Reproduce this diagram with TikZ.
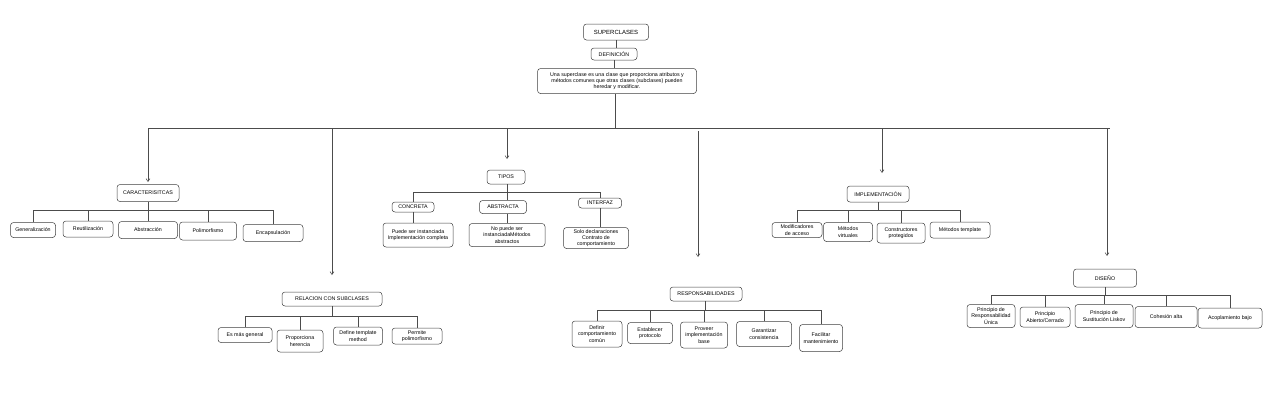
\documentclass[tikz,border=0pt]{standalone}
\usepackage{fontspec}
\setmainfont{Liberation Sans}
\usetikzlibrary{arrows.meta}

\tikzset{
    box/.style={draw=black!75, line width=0.5pt, rounded corners=3pt, align=center,
        inner sep=1pt, font=\fontsize{5.3}{6.3}\selectfont},
    link/.style={draw=black!70, line width=0.5pt},
    arr/.style={link, -{Straight Barb[length=3pt,width=4pt]}}
}

\begin{document}
\begin{tikzpicture}[x=1pt,y=-1pt]
    \useasboundingbox[fill=white] (0,0) rectangle (1278,413);

    % root
    \node[box, minimum width=65, minimum height=16, font=\fontsize{6}{7}\selectfont] (top) at (616,32) {SUPERCLASES};
    \node[box, minimum width=46, minimum height=12] (defn) at (614,54) {DEFINICIÓN};
    \node[box, minimum width=159, minimum height=25] (deftxt) at (617,81)
        {Una superclase es una clase que proporciona atributos y\\métodos comunes que otras clases (subclases) pueden\\heredar y modificar.};
    \draw[link] (top.south) -- (top.south |- defn.north);
    \draw[link] (defn.south) -- (defn.south |- deftxt.north);

    % main bar
    \coordinate (barL) at (148,128);
    \coordinate (barR) at (1110,128);
    \coordinate (trunk) at (615,128);
    \draw[link] (barL) -- (barR);
    \draw[link] (deftxt.south -| trunk) -- (trunk);

    \coordinate (carTip) at (148,182);
    \coordinate (relTip) at (332,275);
    \coordinate (tipTip) at (507,159);
    \coordinate (resTop) at (698,131);
    \coordinate (resTip) at (698,257);
    \coordinate (impTip) at (882,173);
    \coordinate (disTip) at (1107,256);
    \draw[arr] (carTip |- barL) -- (carTip);
    \draw[arr] (relTip |- barL) -- (relTip);
    \draw[arr] (tipTip |- barL) -- (tipTip);
    \draw[arr] (resTop) -- (resTip);
    \draw[arr] (impTip |- barL) -- (impTip);
    \draw[arr] (disTip |- barL) -- (disTip);

    % caracteristicas
    \node[box, minimum width=62, minimum height=17] (car) at (148,193) {CARACTERISITCAS};
    \node[box, minimum width=45, minimum height=15] (car1) at (33,230) {Generalización};
    \node[box, minimum width=50, minimum height=16] (car2) at (88,229) {Reutilización};
    \node[box, minimum width=59, minimum height=17] (car3) at (148,230) {Abstracción};
    \node[box, minimum width=57, minimum height=18] (car4) at (208,231) {Polimorfismo};
    \node[box, minimum width=60, minimum height=17] (car5) at (273,233) {Encapsulación};
    \coordinate (carbar) at (148,210);
    \draw[link] (car.south) -- (carbar);
    \foreach \n in {car1,car2,car3,car4,car5}
        \draw[link] (\n.north) |- (carbar);

    % relacion con subclases
    \node[box, minimum width=100, minimum height=14] (rel) at (332,299) {RELACION CON SUBCLASES};
    \node[box, minimum width=54, minimum height=15] (rel1) at (245,335) {Es más general};
    \node[box, minimum width=46, minimum height=22] (rel2) at (300,341) {Proporciona\\herencia};
    \node[box, minimum width=49, minimum height=18] (rel3) at (358,336) {Define template\\method};
    \node[box, minimum width=50, minimum height=16] (rel4) at (417,336) {Permite\\polimorfismo};
    \coordinate (relbar) at (332,316);
    \draw[link] (rel.south) -- (relbar);
    \foreach \n in {rel1,rel2,rel3,rel4}
        \draw[link] (\n.north) |- (relbar);

    % tipos
    \node[box, minimum width=38, minimum height=14] (tip) at (506,177) {TIPOS};
    \node[box, minimum width=42, minimum height=10] (tip1) at (413,207) {CONCRETA};
    \node[box, minimum width=47, minimum height=13] (tip2) at (503,207) {ABSTRACTA};
    \node[box, minimum width=43, minimum height=10] (tip3) at (600,203) {INTERFAZ};
    \node[box, minimum width=70, minimum height=24] (tip1a) at (418,235) {Puede ser instanciada\\Implementación completa};
    \node[box, minimum width=76, minimum height=23] (tip2a) at (507,235) {No puede ser\\instanciadaMétodos\\abstractos};
    \node[box, minimum width=65, minimum height=21] (tip3a) at (596,238) {Solo declaraciones\\Contrato de\\comportamiento};
    \coordinate (tipbar) at (507,192);
    \draw[link] (tip.south -| tipbar) -- (tipbar);
    \draw[link] (tip1.north) |- (tipbar);
    \draw[link] (tip2.north -| tipbar) -- (tipbar);
    \draw[link] (tip3.north) |- (tipbar);
    \draw[link] (tip1.south) -- (tip1.south |- tip1a.north);
    \draw[link] (tip2.south -| tipbar) -- (tip2a.north -| tipbar);
    \draw[link] (tip3.south) -- (tip3.south |- tip3a.north);

    % responsabilidades
    \node[box, minimum width=72, minimum height=14] (res) at (706,294) {RESPONSABILIDADES};
    \node[box, minimum width=50, minimum height=26] (res1) at (597,334) {Definir\\comportamiento\\común};
    \node[box, minimum width=45, minimum height=21] (res2) at (650,333) {Establecer\\protocolo};
    \node[box, minimum width=47, minimum height=26] (res3) at (704,335) {Proveer\\implementación\\base};
    \node[box, minimum width=55, minimum height=25] (res4) at (764,334) {Garantizar\\consistencia};
    \node[box, minimum width=43, minimum height=27] (res5) at (821,338) {Facilitar\\mantenimiento};
    \coordinate (resbar) at (705,310);
    \draw[link] (res.south -| resbar) -- (resbar);
    \foreach \n in {res1,res2,res3,res4,res5}
        \draw[link] (\n.north) |- (resbar);

    % implementacion
    \node[box, minimum width=62, minimum height=16] (imp) at (878,194) {IMPLEMENTACIÓN};
    \node[box, minimum width=50, minimum height=15] (imp1) at (797,230) {Modificadores\\de acceso};
    \node[box, minimum width=49, minimum height=19] (imp2) at (848,232) {Métodos\\virtuales};
    \node[box, minimum width=48, minimum height=20] (imp3) at (901,233) {Constructores\\protegidos};
    \node[box, minimum width=60, minimum height=16] (imp4) at (960,230) {Métodos template};
    \coordinate (impbar) at (878,210);
    \draw[link] (imp.south) -- (impbar);
    \foreach \n in {imp1,imp2,imp3,imp4}
        \draw[link] (\n.north) |- (impbar);

    % diseño
    \node[box, minimum width=63, minimum height=18] (dis) at (1105,278) {DISEÑO};
    \node[box, minimum width=48, minimum height=23] (dis1) at (991,316) {Principio de\\Responsabilidad\\Única};
    \node[box, minimum width=50, minimum height=20] (dis2) at (1045,317) {Principio\\Abierto/Cerrado};
    \node[box, minimum width=58, minimum height=23] (dis3) at (1104,316) {Principio de\\Sustitución Liskov};
    \node[box, minimum width=62, minimum height=21] (dis4) at (1166,317) {Cohesión alta};
    \node[box, minimum width=64, minimum height=20] (dis5) at (1230,318) {Acoplamiento bajo};
    \coordinate (disbar) at (1105,295);
    \draw[link] (dis.south) -- (disbar);
    \foreach \n in {dis1,dis2,dis3,dis4,dis5}
        \draw[link] (\n.north) |- (disbar);
\end{tikzpicture}
\end{document}
